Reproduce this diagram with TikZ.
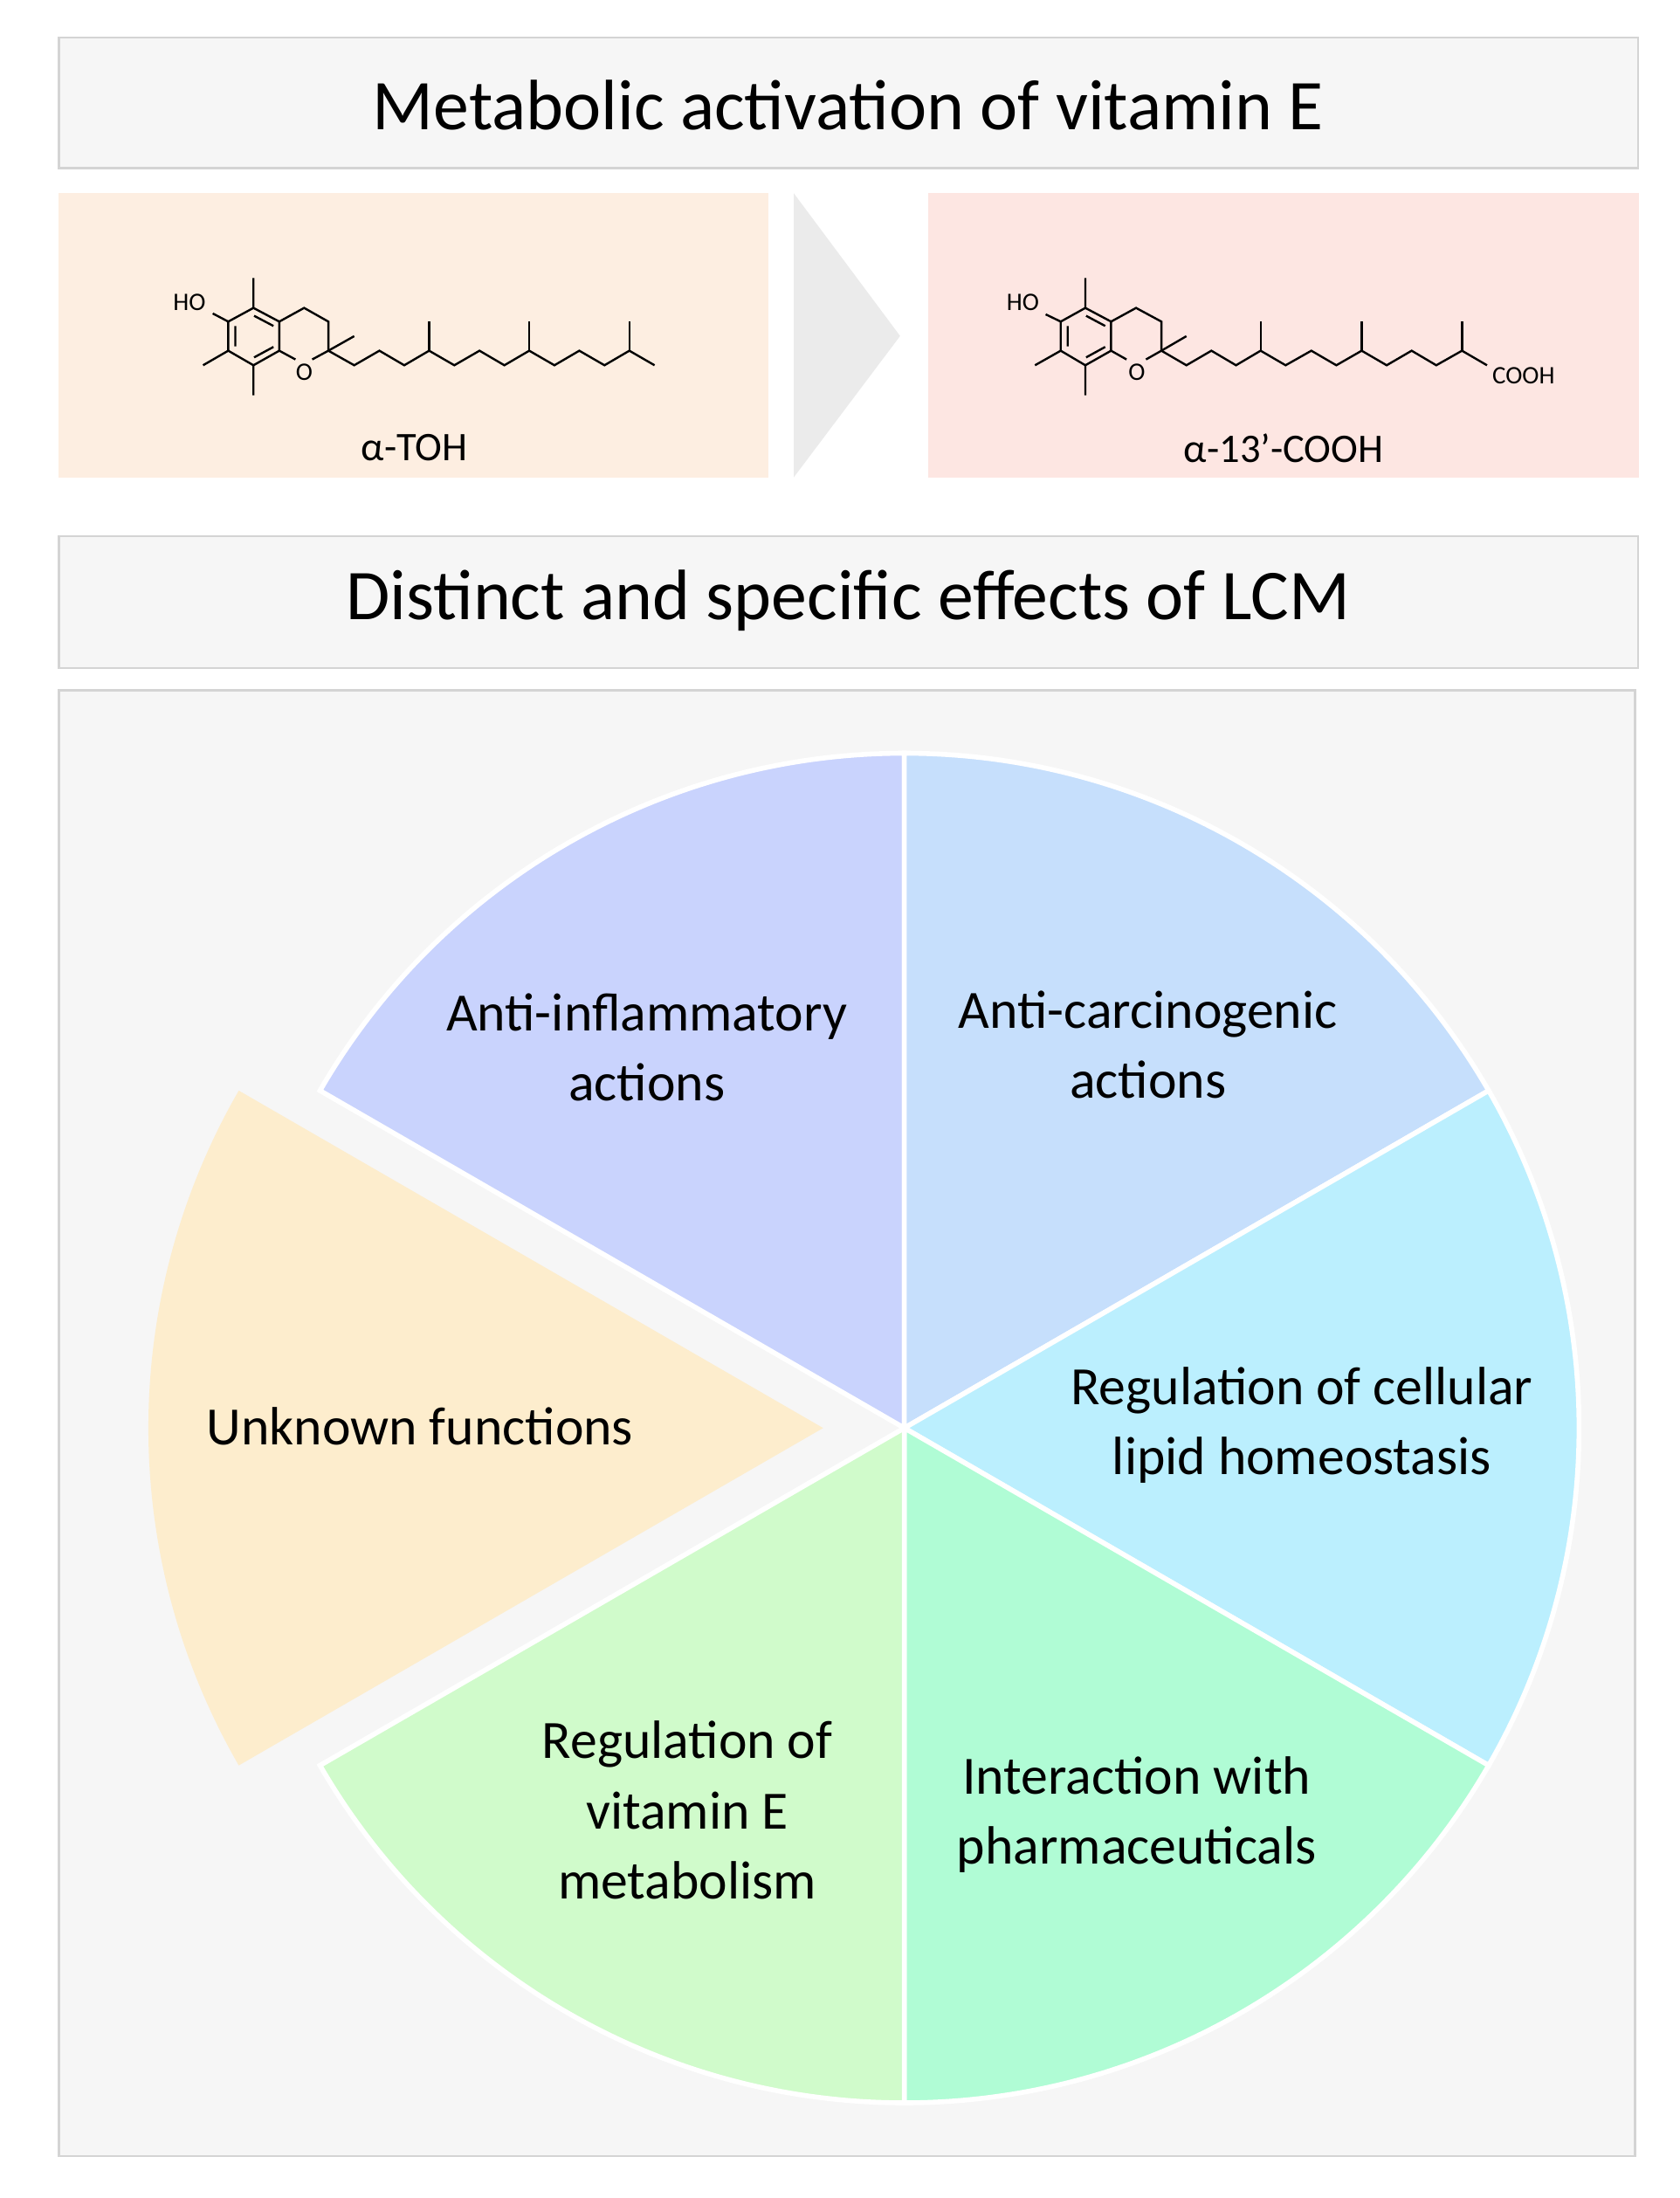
\documentclass[tikz,border=0pt]{standalone}
\usepackage{fontspec}
\setmainfont{Carlito}
\definecolor{boxg}{HTML}{F6F6F6}
\definecolor{boxs}{HTML}{D4D4D4}
\definecolor{lpeach}{HTML}{FDEEE1}
\definecolor{lpink}{HTML}{FDE6E2}
\definecolor{arrg}{HTML}{EBEBEB}
\definecolor{sA}{HTML}{C9D3FD}
\definecolor{sB}{HTML}{C6DFFC}
\definecolor{sC}{HTML}{BBEFFE}
\definecolor{sD}{HTML}{B0FCD5}
\definecolor{sE}{HTML}{D0FBCB}
\definecolor{sF}{HTML}{FDEDCD}
\begin{document}
\begin{tikzpicture}[x=1pt,y=-1pt,
  box/.style={fill=boxg,draw=boxs,line width=1.5pt},
  sec/.style={draw=white,line width=3.5pt,line join=miter},
  bond/.style={line width=1.5pt,line cap=butt,line join=miter},
  title/.style={font=\fontsize{51}{55}\selectfont},
  lab/.style={font=\fontsize{38.5}{50}\selectfont,align=center},
  mol/.style={font=\fontsize{18}{18}\selectfont,inner sep=0pt}]
\useasboundingbox (0,0) rectangle (1200,1570);
% top
\draw[box] (42,27) rectangle (1170,120);
\node[title] (t1) at (606,75) {Metabolic activation of vitamin E};
\fill[lpeach] (42,138) rectangle (549,341);
\fill[lpink] (663,138) rectangle (1171,341);
\fill[arrg] (567,138) -- (643,240) -- (567,341) -- cycle;
\node[font=\fontsize{29}{30}\selectfont] (l1) at (296,320) {α-TOH};
\node[font=\fontsize{29}{30}\selectfont] (l2) at (917,320) {α-13\symbol{39}-COOH};
% left molecule
\begin{scope}[shift={(112.3,187.1)},xscale=0.2307,yscale=0.2079]
\draw[bond] (298,158)--(378,205)--(378,305)--(298,355)--(220,305)--(220,205)--cycle;
\draw[bond] (300,185)--(360,220) (242,220)--(242,290) (300,328)--(360,292);
\draw[bond] (378,205)--(455,158)--(530,205)--(530,305);
\draw[bond] (530,305)--(480,335) (378,305)--(428,335);
\draw[bond] (298,158)--(298,55) (220,205)--(172,177) (220,305)--(142,355) (298,355)--(298,458) (530,305)--(610,255);
\draw[bond] (530,305)--(610,355)--(688,305)--(765,355)--(842,305)--(920,355)--(998,305)--(1075,355)--(1152,305)--(1230,355)--(1307,305)--(1385,355)--(1462,305)--(1540,355);
\draw[bond] (842,305)--(842,205) (1152,305)--(1152,205) (1462,305)--(1462,205);
\node[mol] (ho1) at (100,140) {HO};
\node[mol] (o1) at (455,378) {O};
\end{scope}
% right molecule
\begin{scope}[shift={(711,187.1)},xscale=0.2625,yscale=0.2079]
\draw[bond] (245,158)--(315,205)--(315,305)--(245,355)--(178,305)--(178,205)--cycle;
\draw[bond] (247,185)--(299,220) (197,220)--(197,290) (247,328)--(299,292);
\draw[bond] (315,205)--(383,158)--(452,205)--(452,305);
\draw[bond] (452,305)--(410,335) (315,305)--(357,335);
\draw[bond] (245,158)--(245,55) (178,205)--(137,180) (178,305)--(108,355) (245,355)--(245,458) (452,305)--(520,255);
\draw[bond] (452,305)--(520,355)--(588,305)--(655,355)--(722,305)--(790,355)--(860,305)--(928,355)--(997,305)--(1065,355)--(1133,305)--(1200,355)--(1270,305)--(1338,355);
\draw[bond] (722,305)--(722,205) (997,305)--(997,205) (1270,305)--(1270,205);
\node[mol] (ho2) at (75,140) {HO};
\node[mol] (o2) at (385,378) {O};
\node[mol,anchor=west] (cooh) at (1352,390) {COOH};
\end{scope}
% second title
\draw[box] (42,383) rectangle (1170,477);
\node[title] (t2) at (606,429) {Distinct and specific effects of LCM};
\draw[box] (42,493) rectangle (1168,1540);
% pie
\coordinate (c) at (646,1020);
\coordinate (cu) at (588,1020);
\def\r{482}
\filldraw[sec,fill=sA] (c) -- +(-90:\r) arc[start angle=-90,end angle=-150,radius=\r] -- cycle;
\filldraw[sec,fill=sB] (c) -- +(-30:\r) arc[start angle=-30,end angle=-90,radius=\r] -- cycle;
\filldraw[sec,fill=sC] (c) -- +(30:\r) arc[start angle=30,end angle=-30,radius=\r] -- cycle;
\filldraw[sec,fill=sD] (c) -- +(90:\r) arc[start angle=90,end angle=30,radius=\r] -- cycle;
\filldraw[sec,fill=sE] (c) -- +(150:\r) arc[start angle=150,end angle=90,radius=\r] -- cycle;
\fill[fill=sF] (cu) -- +(-150:\r) arc[start angle=-150,end angle=-210,radius=\r] -- cycle;
\node[lab] (p1) at (462,748) {Anti-inflammatory\\actions};
\node[lab] (p2) at (820,746) {Anti-carcinogenic\\actions};
\node[lab] (p3) at (930,1018) {Regulation of cellular\\lipid homeostasis};
\node[lab] (p4) at (812,1296) {Interaction with\\pharmaceuticals};
\node[lab] (p5) at (491,1293) {Regulation of\\vitamin E\\metabolism};
\node[lab] (p6) at (300,1019) {Unknown functions};
\end{tikzpicture}
\end{document}
